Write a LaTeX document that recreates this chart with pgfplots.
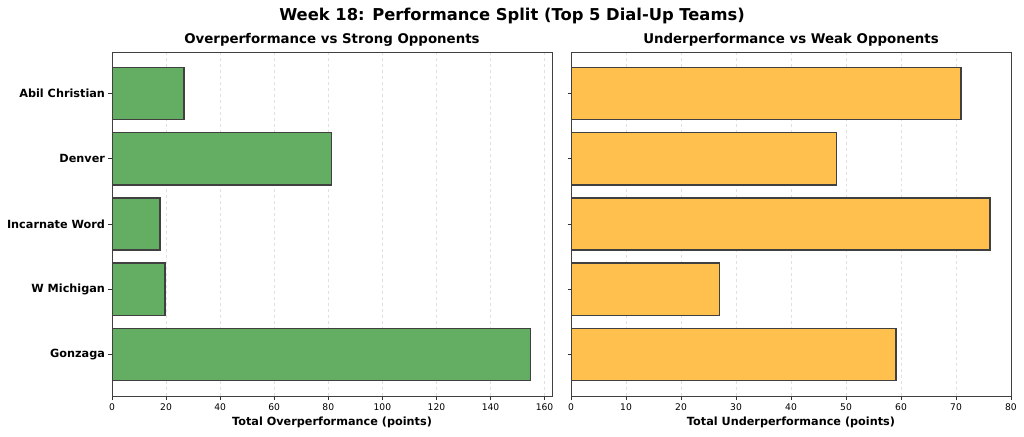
\documentclass[border=0pt]{standalone}
\usepackage{pgfplots}
\pgfplotsset{compat=1.18}
\usepackage{fontspec}
\setmainfont{DejaVu Sans}

\definecolor{overgreen}{RGB}{100,174,100}
\definecolor{underorange}{RGB}{255,192,77}
\definecolor{edgegray}{RGB}{64,64,64}

\pgfplotsset{
  panel/.style={
    scale only axis,
    width=440bp, height=344bp,
    anchor=south west,
    xbar, bar width=0.8,
    y dir=reverse,
    ymin=-0.64, ymax=4.64,
    ytick={0,1,2,3,4},
    xmin=0,
    axis line style={black!75, line width=0.8bp},
    tick style={black!80, line width=0.8bp},
    tick align=outside,
    major tick length=3.5bp,
    xtick pos=left, ytick pos=left,
    xmajorgrids,
    grid style={dashed, black!12, line width=0.6bp},
    /pgf/number format/assume math mode=true,
    tick label style={font=\fontsize{9.2}{11}\selectfont},
    xticklabel style={yshift=-1bp},
    xlabel style={font=\fontsize{11.3}{13}\selectfont\bfseries, yshift=1bp},
    title style={font=\fontsize{13.4}{16}\selectfont\bfseries, yshift=-4bp},
    every axis plot/.append style={draw=edgegray, line width=1.4bp},
  }
}

\begin{document}
\begin{tikzpicture}
\useasboundingbox (0,0) rectangle (1024bp,437bp);

\node[font=\fontsize{16.4}{19}\selectfont\bfseries] at (512bp,421bp)
  {Week 18: Performance Split (Top 5 Dial-Up Teams)};

\begin{axis}[panel,
  at={(112bp,41bp)},
  xmax=162.75,
  xtick={0,20,40,60,80,100,120,140,160},
  yticklabels={Abil Christian, Denver, Incarnate Word, W Michigan, Gonzaga},
  yticklabel style={font=\fontsize{11.3}{13}\selectfont\bfseries},
  title={Overperformance vs Strong Opponents},
  xlabel={Total Overperformance (points)},
]
\addplot[fill=overgreen] coordinates {
  (26.7,0) (81.3,1) (17.8,2) (19.6,3) (154.8,4)
};
\end{axis}

\begin{axis}[panel,
  at={(571bp,41bp)},
  xmax=80,
  xtick={0,10,20,30,40,50,60,70,80},
  yticklabels={},
  title={Underperformance vs Weak Opponents},
  xlabel={Total Underperformance (points)},
]
\addplot[fill=underorange] coordinates {
  (70.9,0) (48.3,1) (76.2,2) (27.0,3) (59.1,4)
};
\end{axis}
\end{tikzpicture}
\end{document}
